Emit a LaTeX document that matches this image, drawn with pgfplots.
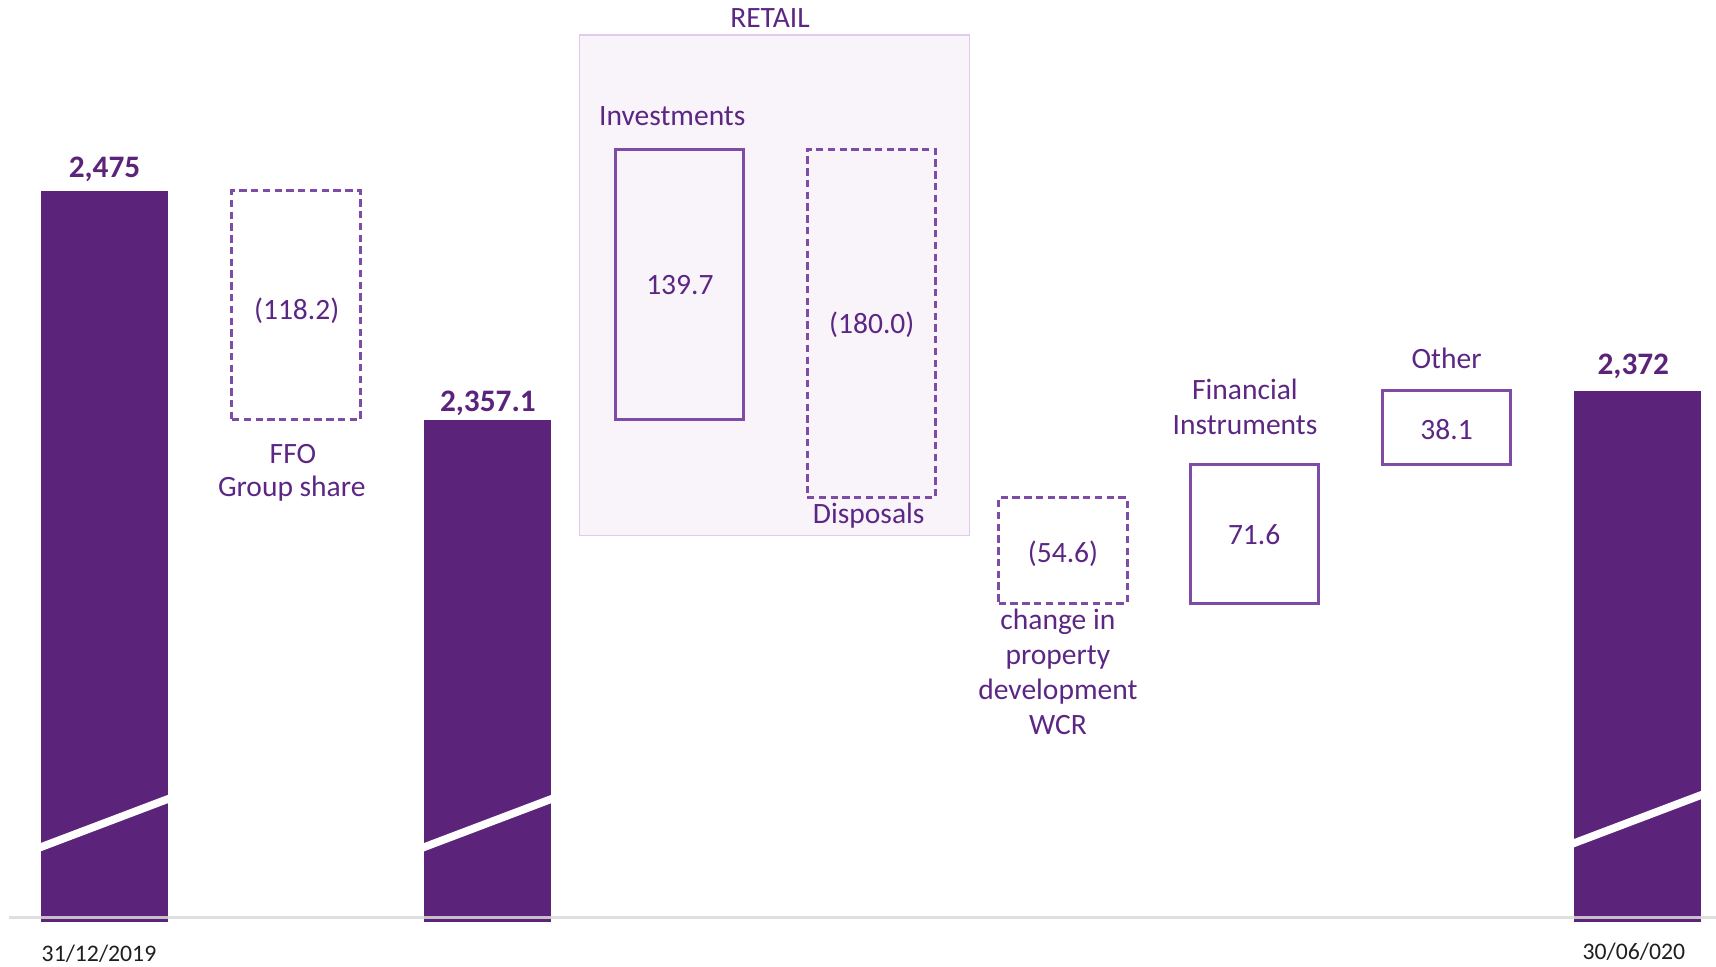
\documentclass[border=0pt]{standalone}
\usepackage{fontspec}
\setmainfont{Carlito}
\usepackage{pgfplots}
\pgfplotsset{compat=1.18}
\definecolor{barpurple}{HTML}{5B247A}
\definecolor{txtpurple}{HTML}{5C2784}
\definecolor{boxpurple}{HTML}{7E4BA6}
\definecolor{retailfill}{HTML}{F9F3FA}
\definecolor{retailline}{HTML}{E1C9EF}
\definecolor{baselinegray}{HTML}{D9D9D9}
\definecolor{datecol}{HTML}{1F1F1F}
\begin{document}
\begin{tikzpicture}[
  lbl/.style={font=\fontsize{8.4}{10}\selectfont, text=txtpurple, anchor=base, inner sep=0pt},
  val/.style={font=\fontsize{8.9}{10}\selectfont\bfseries, text=barpurple, anchor=base, inner sep=0pt},
  dat/.style={font=\fontsize{6.75}{8}\selectfont, text=datecol, anchor=base, inner sep=0pt}]
\begin{axis}[scale only axis, width=171.6mm, height=96.7mm,
  xmin=-0.5452, xmax=8.4072, ymin=2074.2, ymax=2573.96,
  hide axis, clip=false]
% RETAIL background panel
\addplot[fill=retailfill, draw=retailline, line width=0.15mm]
  coordinates {(2.477,2297.11) (4.512,2297.11) (4.512,2555.87) (2.477,2555.87)} -- cycle;
% total bars (31/12/2019 = 2,475 ; 2,357.1 ; 30/06/2020 = 2,372)
\addplot[fill=barpurple, draw=none]
  coordinates {(-0.331,2097.6) (0.331,2097.6) (0.331,2475.3) (-0.331,2475.3)} -- cycle;
\addplot[fill=barpurple, draw=none]
  coordinates {(1.669,2097.6) (2.331,2097.6) (2.331,2357.1) (1.669,2357.1)} -- cycle;
\addplot[fill=barpurple, draw=none]
  coordinates {(7.669,2097.6) (8.331,2097.6) (8.331,2371.9) (7.669,2371.9)} -- cycle;
% axis-break stripes
\addplot[fill=white, draw=none]
  coordinates {(-0.34,2133.7) (0.34,2159.2) (0.34,2163.5) (-0.34,2138.0)} -- cycle;
\addplot[fill=white, draw=none]
  coordinates {(1.66,2133.7) (2.34,2159.2) (2.34,2163.5) (1.66,2138.0)} -- cycle;
\addplot[fill=white, draw=none]
  coordinates {(7.66,2135.8) (8.34,2161.3) (8.34,2165.6) (7.66,2140.1)} -- cycle;
% baseline
\addplot[draw=baselinegray, line width=0.3mm, opacity=0.85]
  coordinates {(-0.498,2099.9) (8.4072,2099.9)};
% negative changes (dashed)
\addplot[draw=boxpurple, line width=0.3mm, dash pattern=on 2.1pt off 1.25pt]
  coordinates {(0.665,2357.1) (1.335,2357.1) (1.335,2475.3) (0.665,2475.3)} -- cycle;
\addplot[draw=boxpurple, line width=0.3mm, dash pattern=on 2.1pt off 1.25pt]
  coordinates {(3.665,2316.8) (4.335,2316.8) (4.335,2496.8) (3.665,2496.8)} -- cycle;
\addplot[draw=boxpurple, line width=0.3mm, dash pattern=on 2.1pt off 1.25pt]
  coordinates {(4.665,2262.2) (5.335,2262.2) (5.335,2316.8) (4.665,2316.8)} -- cycle;
% positive changes (solid)
\addplot[draw=boxpurple, line width=0.3mm]
  coordinates {(2.665,2357.1) (3.335,2357.1) (3.335,2496.8) (2.665,2496.8)} -- cycle;
\addplot[draw=boxpurple, line width=0.3mm]
  coordinates {(5.665,2262.2) (6.335,2262.2) (6.335,2333.8) (5.665,2333.8)} -- cycle;
\addplot[draw=boxpurple, line width=0.3mm]
  coordinates {(6.665,2333.8) (7.335,2333.8) (7.335,2371.9) (6.665,2371.9)} -- cycle;
% value labels of totals
\node[val] at (axis cs:0,2482.33) {2,475};
\node[val] at (axis cs:2.0,2361.2) {2,357.1};
\node[val] at (axis cs:7.976,2380.16) {2,372};
% values inside boxes
\node[lbl] at (axis cs:1.0027,2408.59) {(118.2)};
\node[lbl] at (axis cs:3.002,2421.51) {139.7};
\node[lbl] at (axis cs:4.003,2401.35) {(180.0)};
\node[lbl] at (axis cs:5.0005,2283.16) {(54.6)};
\node[lbl] at (axis cs:5.998,2292.31) {71.6};
\node[lbl] at (axis cs:7.002,2346.93) {38.1};
% category labels
\node[lbl] at (axis cs:0.983,2334.53) {FFO};
\node[lbl] at (axis cs:0.977,2317.27) {Group share};
\node[lbl] at (axis cs:3.472,2559.85) {RETAIL};
\node[lbl] at (axis cs:2.962,2508.84) {Investments};
\node[lbl] at (axis cs:3.987,2303.16) {Disposals};
\node[lbl] at (axis cs:4.974,2248.38) {change in};
\node[lbl] at (axis cs:4.974,2230.29) {property};
\node[lbl] at (axis cs:4.974,2212.20) {development};
\node[lbl] at (axis cs:4.974,2194.12) {WCR};
\node[lbl] at (axis cs:5.950,2367.60) {Financial};
\node[lbl] at (axis cs:5.950,2349.15) {Instruments};
\node[lbl] at (axis cs:7.002,2383.62) {Other};
% dates
\node[dat] at (axis cs:-0.0287,2076.8) {31/12/2019};
\node[dat] at (axis cs:7.979,2077.84) {30/06/020};
\end{axis}
\pgfresetboundingbox
\useasboundingbox (0,0) rectangle (171.6mm,96.7mm);
\end{tikzpicture}
\end{document}
